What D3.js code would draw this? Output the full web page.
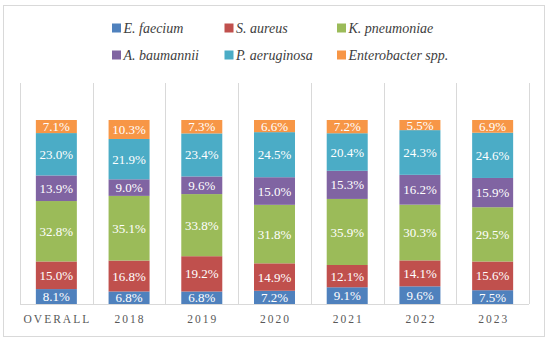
<!DOCTYPE html>
<html>
<head>
<meta charset="utf-8">
<script src="https://cdn.jsdelivr.net/npm/d3@7"></script>
<style>
  body { margin: 0; background: #fff; }
  svg { display: block; }
  text { font-family: "Liberation Serif", "DejaVu Serif", serif; }
</style>
</head>
<body>
<svg width="550" height="342"></svg>
<script>
// categories and series
var categories = ["OVERALL", "2018", "2019", "2020", "2021", "2022", "2023"];
var species = ["E. faecium", "S. aureus", "K. pneumoniae", "A. baumannii", "P. aeruginosa", "Enterobacter spp."];
var colors = ["#4f81bd", "#c0504d", "#9bbb59", "#8064a2", "#4bacc6", "#f79646"];

var eFaecium     = [8.1, 6.8, 6.8, 7.2, 9.1, 9.6, 7.5];
var sAureus      = [15.0, 16.8, 19.2, 14.9, 12.1, 14.1, 15.6];
var kPneumoniae  = [32.8, 35.1, 33.8, 31.8, 35.9, 30.3, 29.5];
var aBaumannii   = [13.9, 9.0, 9.6, 15.0, 15.3, 16.2, 15.9];
var pAeruginosa  = [23.0, 21.9, 23.4, 24.5, 20.4, 24.3, 24.6];
var enterobacter = [7.1, 10.3, 7.3, 6.6, 7.2, 5.5, 6.9];

var series = [eFaecium, sAureus, kPneumoniae, aBaumannii, pAeruginosa, enterobacter];

var rows = categories.map(function (c, i) {
    var r = { cat: c };
    species.forEach(function (s, j) { r[s] = series[j][i]; });
    return r;
});

var svg = d3.select("svg");

// outer frame
svg.append("rect")
    .attr("x", 3.5).attr("y", 5.5)
    .attr("width", 541).attr("height", 331)
    .attr("fill", "none").attr("stroke", "#d9d9d9");

var plotLeft = 20, plotRight = 529, plotTop = 120, plotBottom = 304;

var x = d3.scaleBand().domain(categories).range([plotLeft, plotRight]).paddingInner(0).paddingOuter(0);
var y = d3.scaleLinear().domain([0, 1]).range([plotBottom, plotTop]);

// category separators
var g = svg.append("g");
var bounds = categories.map(function (c) { return x(c); }).concat([plotRight]);
g.selectAll(".sep")
    .data(bounds)
    .enter().append("line")
    .attr("x1", function (d) { return Math.round(d) + 0.5; })
    .attr("x2", function (d) { return Math.round(d) + 0.5; })
    .attr("y1", 83).attr("y2", plotBottom)
    .attr("stroke", "#d9d9d9");

var stack = d3.stack().keys(species).offset(d3.stackOffsetExpand);
var stacked = stack(rows);

var barW = 41;

var layer = g.selectAll(".layer")
    .data(stacked)
    .enter().append("g")
    .attr("fill", function (d, i) { return colors[i]; });

layer.selectAll("rect")
    .data(function (d) { return d; })
    .enter().append("rect")
    .attr("x", function (d) { return x(d.data.cat) + x.bandwidth() / 2 - barW / 2; })
    .attr("y", function (d) { return y(d[1]); })
    .attr("width", barW)
    .attr("height", function (d) { return y(d[0]) - y(d[1]); });

layer.selectAll("text")
    .data(function (d) { return d.map(function (p) { p.key = d.key; return p; }); })
    .enter().append("text")
    .attr("x", function (d) { return x(d.data.cat) + x.bandwidth() / 2; })
    .attr("y", function (d) { return (y(d[0]) + y(d[1])) / 2; })
    .attr("dy", "0.35em")
    .attr("text-anchor", "middle")
    .attr("fill", "#fff")
    .style("font-size", "13px")
    .text(function (d) { return d.data[d.key].toFixed(1) + "%"; });

// x axis
var xAxis = svg.append("g")
    .attr("transform", "translate(0," + plotBottom + ")")
    .call(d3.axisBottom(x).tickSize(0).tickPadding(11));
xAxis.select(".domain").attr("stroke", "#d9d9d9").attr("d", "M" + plotLeft + ",0.5H" + plotRight);
xAxis.selectAll("text")
    .attr("fill", "#595959")
    .attr("dx", "1px")
    .style("font-size", "11.5px")
    .style("letter-spacing", "2px");

// legend
var legend = svg.append("g");
species.forEach(function (s, i) {
    var lx = 112 + (i % 3) * 112.5, ly = 28 + Math.floor(i / 3) * 27;
    legend.append("rect")
        .attr("x", lx).attr("y", ly - 4.5)
        .attr("width", 9).attr("height", 9)
        .attr("fill", colors[i]);
    legend.append("text")
        .attr("x", lx + 11.5).attr("y", ly)
        .attr("dy", "0.35em")
        .attr("fill", "#404040")
        .style("font-size", "14px")
        .style("font-style", "italic")
        .text(s);
});
</script>
</body>
</html>
